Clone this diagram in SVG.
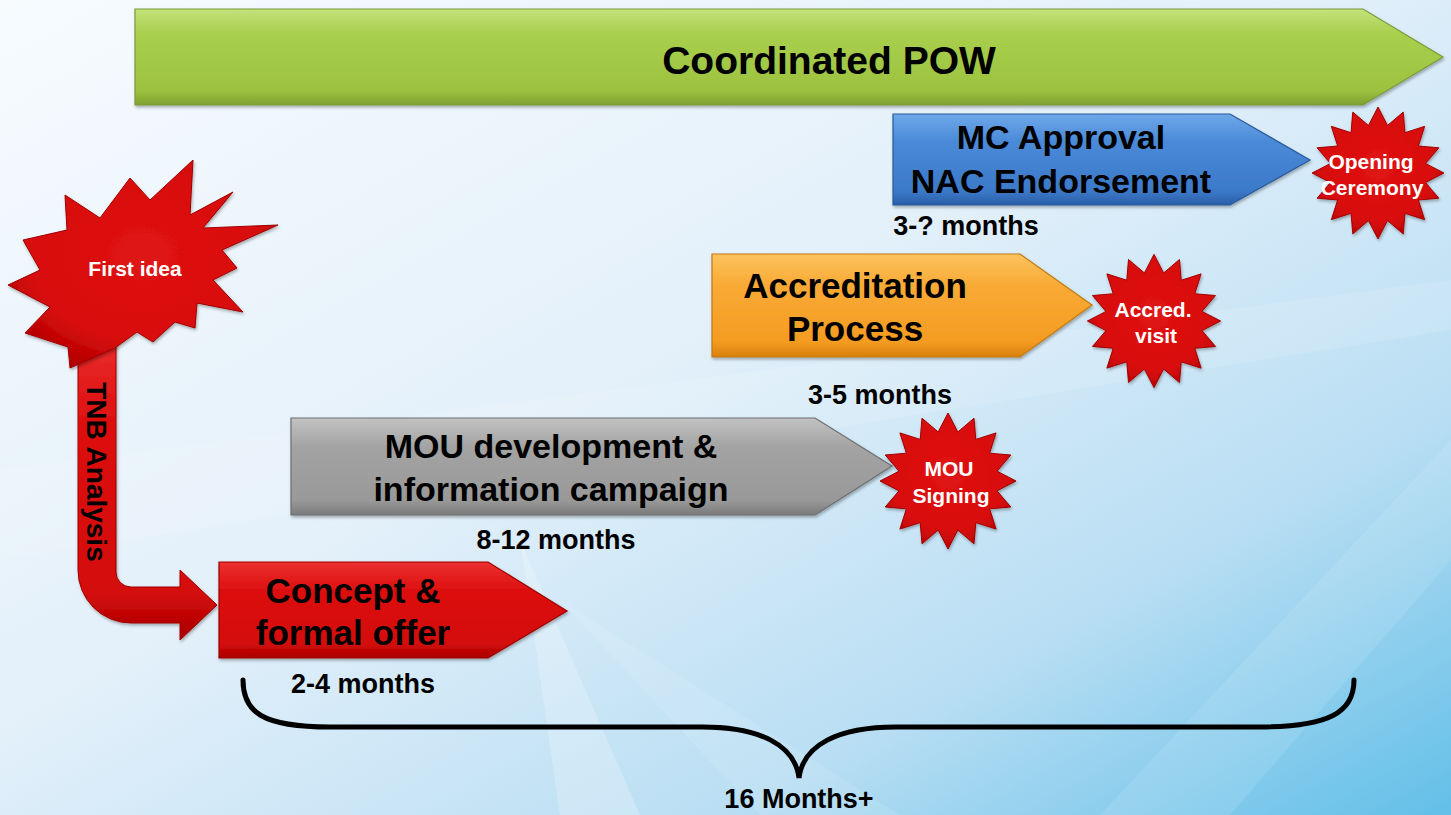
<svg xmlns="http://www.w3.org/2000/svg" xmlns:xlink="http://www.w3.org/1999/xlink" width="1451" height="815" viewBox="0 0 1451 815">
<style>
.lbl{font-family:"Liberation Sans",Arial,sans-serif;font-weight:bold;fill:#000;text-anchor:middle}
.big{font-size:35px}
.mon{font-size:27px}
.st{font-family:"Liberation Sans",Arial,sans-serif;font-weight:bold;fill:#fff;text-anchor:middle;font-size:21px}
.edge{stroke-width:1.2}
</style>
<defs>
<linearGradient id="bg" x1="0" y1="0" x2="1" y2="1">
<stop offset="0" stop-color="#f7fbfe"/>
<stop offset="0.45" stop-color="#e3f0fa"/>
<stop offset="0.75" stop-color="#b9def3"/>
<stop offset="1" stop-color="#62bfe8"/>
</linearGradient>
<linearGradient id="gGreen" x1="0" y1="0" x2="0" y2="1">
<stop offset="0" stop-color="#c4e27c"/>
<stop offset="0.25" stop-color="#a9cf4e"/>
<stop offset="0.85" stop-color="#9cc23f"/>
<stop offset="1" stop-color="#7e9f2e"/>
</linearGradient>
<linearGradient id="gBlue" x1="0" y1="0" x2="0" y2="1">
<stop offset="0" stop-color="#6fa8ea"/>
<stop offset="0.3" stop-color="#4a8ad8"/>
<stop offset="0.85" stop-color="#3b79c8"/>
<stop offset="1" stop-color="#2a5ea8"/>
</linearGradient>
<linearGradient id="gOrange" x1="0" y1="0" x2="0" y2="1">
<stop offset="0" stop-color="#fcc35e"/>
<stop offset="0.3" stop-color="#f9aa35"/>
<stop offset="0.85" stop-color="#f49c22"/>
<stop offset="1" stop-color="#d87f0c"/>
</linearGradient>
<linearGradient id="gGray" x1="0" y1="0" x2="0" y2="1">
<stop offset="0" stop-color="#c2c2c2"/>
<stop offset="0.3" stop-color="#a3a3a3"/>
<stop offset="0.85" stop-color="#999999"/>
<stop offset="1" stop-color="#7a7a7a"/>
</linearGradient>
<linearGradient id="gRed" x1="0" y1="0" x2="0" y2="1">
<stop offset="0" stop-color="#ec3030"/>
<stop offset="0.3" stop-color="#dc0f0f"/>
<stop offset="0.85" stop-color="#d40a0a"/>
<stop offset="1" stop-color="#a80000"/>
</linearGradient>
<radialGradient id="gStar" cx="0.5" cy="0.45" r="0.6">
<stop offset="0" stop-color="#e01414"/>
<stop offset="0.7" stop-color="#d80b0b"/>
<stop offset="1" stop-color="#b00000"/>
</radialGradient>
<filter id="sh" x="-10%" y="-10%" width="120%" height="130%">
<feDropShadow dx="1" dy="2" stdDeviation="1.5" flood-color="#000" flood-opacity="0.3"/>
</filter>
<path id="star16" d="M0 -68 L9.8 -49 L26 -62.8 L27.8 -41.6 L48.1 -48.1 L41.6 -27.8 L62.8 -26 L49 -9.8 L68 0 L49 9.8 L62.8 26 L41.6 27.8 L48.1 48.1 L27.8 41.6 L26 62.8 L9.8 49 L0 68 L-9.8 49 L-26 62.8 L-27.8 41.6 L-48.1 48.1 L-41.6 27.8 L-62.8 26 L-49 9.8 L-68 0 L-49 -9.8 L-62.8 -26 L-41.6 -27.8 L-48.1 -48.1 L-27.8 -41.6 L-26 -62.8 L-9.8 -49 Z" fill="url(#gStar)" stroke="#a00000" stroke-width="1"/>
</defs>

<rect width="1451" height="815" fill="url(#bg)"/>
<g id="background-shards" fill="#ffffff">
<polygon points="0,470 1451,280 1451,330 0,560" opacity="0.12"/>
<polygon points="520,540 640,815 560,815" opacity="0.22"/>
<polygon points="1100,815 1451,440 1451,560 1230,815" opacity="0.1"/>
<polygon points="560,600 900,815 760,815" opacity="0.1"/>
</g>

<g id="connectors">
<path id="tnb-arrow" d="M78 330 H116 V572 A15 15 0 0 0 131 587 H180 V570 L217 605 L180 640 V623 H131 A53 53 0 0 1 78 570 Z" fill="url(#gRed)" stroke="#a00000" stroke-width="1" filter="url(#sh)"/>
<text class="lbl" font-size="28" transform="translate(97,472) rotate(90)" y="10">TNB Analysis</text>
<path id="brace" d="M243 680 C243 712 262 727 330 727 H702 C760 727 795 745 799 778 C803 745 838 727 896 727 H1258 C1330 727 1354 712 1354 680" fill="none" stroke="#000" stroke-width="5" stroke-linecap="round" stroke-linejoin="miter"/>
<text class="lbl mon" x="799" y="808">16 Months+</text>
</g>

<g id="coordinated-pow">
<path d="M135 9 H1363 L1443 57 L1363 105 H135 Z" fill="url(#gGreen)" stroke="#7d9a3a" class="edge" filter="url(#sh)"/>
<text class="lbl" font-size="39" x="829" y="74">Coordinated POW</text>
</g>

<g id="mc-approval">
<path d="M893 114 H1230 L1310 160 L1230 205 H893 Z" fill="url(#gBlue)" stroke="#2a5a9a" class="edge" filter="url(#sh)"/>
<text class="lbl" font-size="34" x="1061" y="149">MC Approval</text>
<text class="lbl" font-size="34" x="1061" y="193">NAC Endorsement</text>
<text class="lbl mon" x="966" y="235">3-? months</text>
</g>

<g id="accreditation">
<path d="M712 254 H1020 L1092 305 L1020 357 H712 Z" fill="url(#gOrange)" stroke="#c07a10" class="edge" filter="url(#sh)"/>
<text class="lbl big" x="855" y="298">Accreditation</text>
<text class="lbl big" x="855" y="341">Process</text>
<text class="lbl mon" x="880" y="404">3-5 months</text>
</g>

<g id="mou-development">
<path d="M291 418 H815 L892 466 L815 515 H291 Z" fill="url(#gGray)" stroke="#6f6f6f" class="edge" filter="url(#sh)"/>
<text class="lbl" font-size="34" x="551" y="458">MOU development &amp;</text>
<text class="lbl" font-size="34" x="551" y="501">information campaign</text>
<text class="lbl mon" x="556" y="549">8-12 months</text>
</g>

<g id="concept-offer">
<path d="M219 562 H488 L567 611 L488 658 H219 Z" fill="url(#gRed)" stroke="#a00000" class="edge" filter="url(#sh)"/>
<text class="lbl big" x="353" y="603">Concept &amp;</text>
<text class="lbl big" x="353" y="645">formal offer</text>
<text class="lbl mon" x="363" y="693">2-4 months</text>
</g>

<g id="first-idea">
<path d="M193 160 L190 215 L233 192 L203 228 L278 225 L222 250 L237 268 L213 280 L243 312 L197 303 L195 328 L175 322 L153 342 L137 332 L115 348 L70 368 L68 347 L25 333 L50 307 L8 285 L40 270 L23 240 L67 230 L65 195 L100 218 L130 178 L150 200 Z" fill="url(#gStar)" stroke="#a00000" stroke-width="1" filter="url(#sh)"/>
<text class="st" font-size="22" x="135" y="276">First idea</text>
</g>

<g id="opening-ceremony">
<use xlink:href="#star16" transform="translate(1378,173) scale(0.97)" filter="url(#sh)"/>
<text class="st" x="1371" y="169">Opening</text>
<text class="st" x="1372" y="195">Ceremony</text>
</g>

<g id="accred-visit">
<use xlink:href="#star16" transform="translate(1154,321) scale(0.98)" filter="url(#sh)"/>
<text class="st" x="1153" y="317">Accred.</text>
<text class="st" x="1156" y="343">visit</text>
</g>

<g id="mou-signing">
<use xlink:href="#star16" transform="translate(948,481)" filter="url(#sh)"/>
<text class="st" x="949" y="476">MOU</text>
<text class="st" x="951" y="503">Signing</text>
</g>
</svg>
